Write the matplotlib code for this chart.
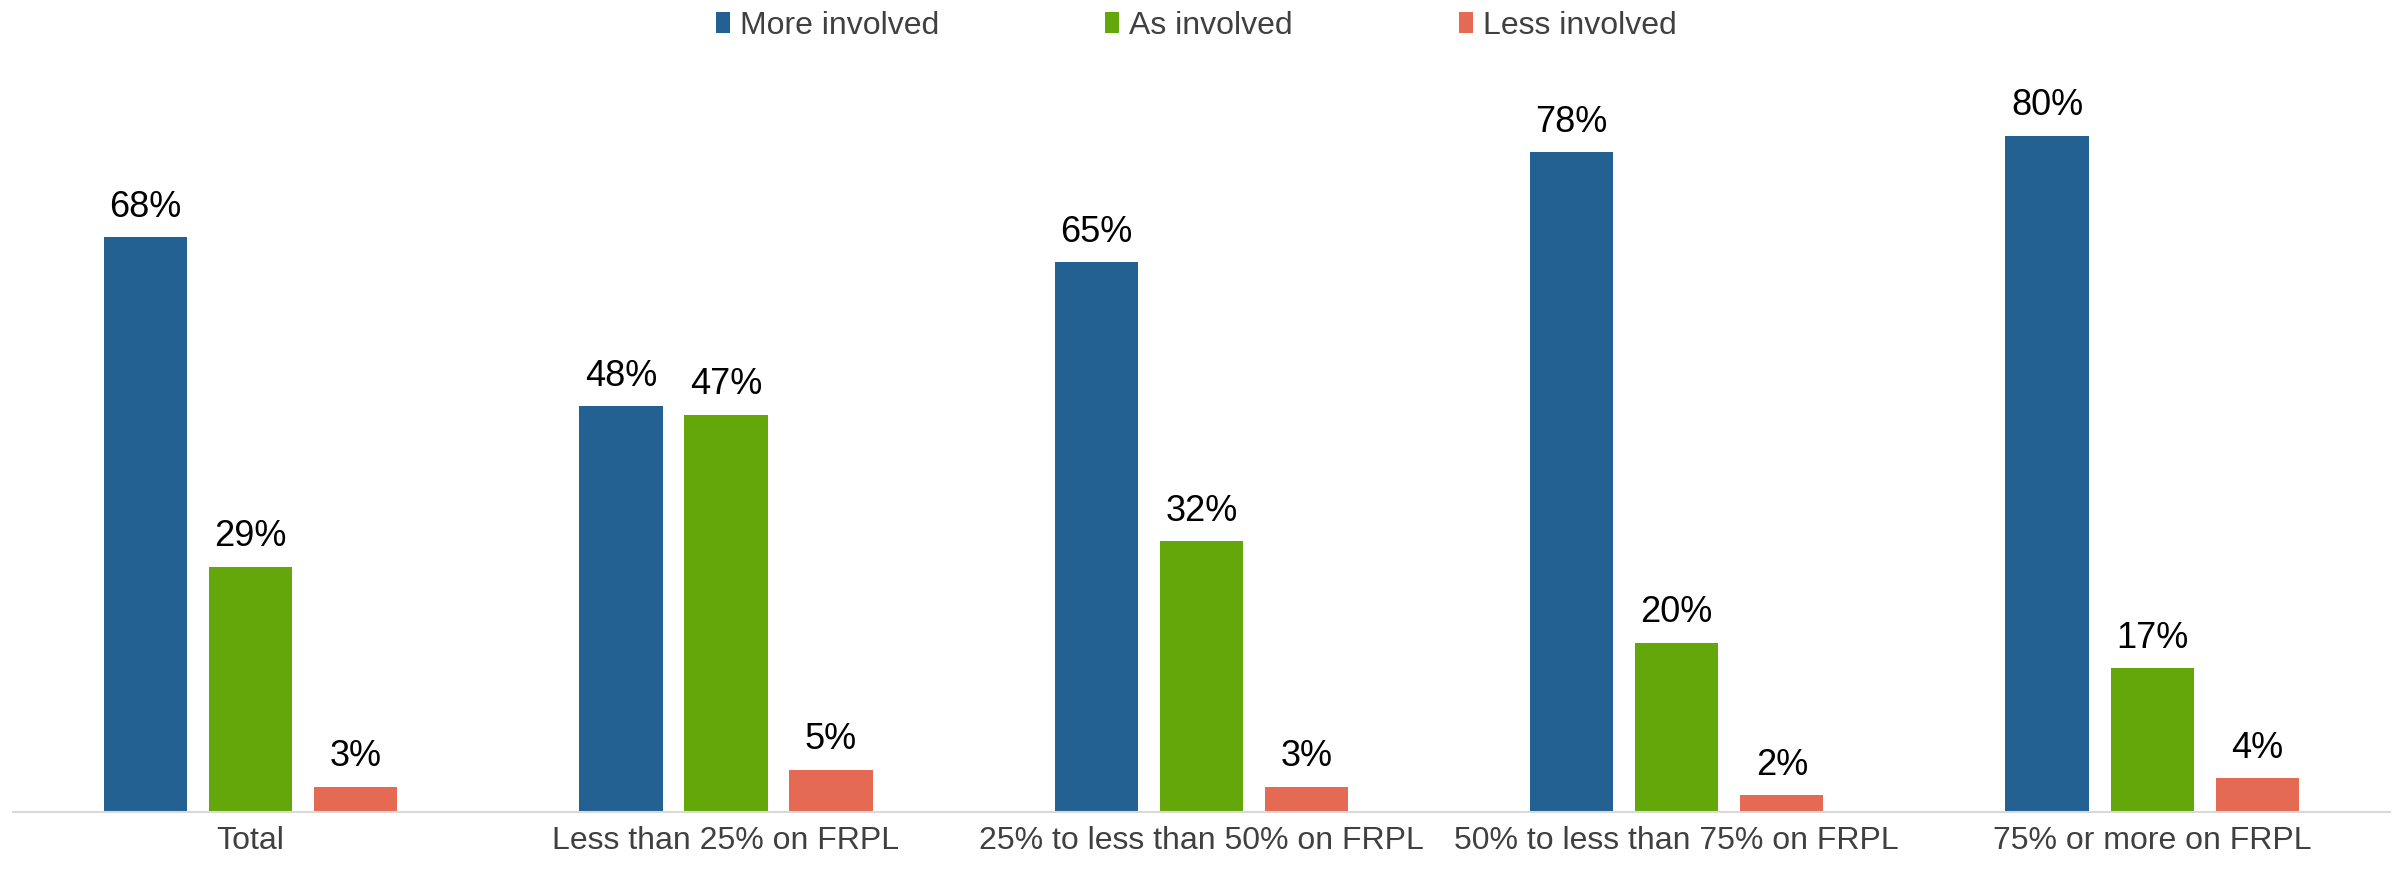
import numpy as np
import matplotlib
matplotlib.use('Agg')
import matplotlib.pyplot as plt

plt.rcParams['font.family'] = ['Liberation Sans', 'DejaVu Sans']

groups = ['Total', 'Less than 25% on FRPL', '25% to less than 50% on FRPL',
          '50% to less than 75% on FRPL', '75% or more on FRPL']
more_involved = [68, 48, 65, 78, 80]
as_involved = [29, 47, 32, 20, 17]
less_involved = [3, 5, 3, 2, 4]

series = [('More involved', more_involved, '#236192'),
          ('As involved', as_involved, '#64A70B'),
          ('Less involved', less_involved, '#E56A54')]

fig = plt.figure(figsize=(23.97, 8.69), dpi=100)
ax = fig.add_axes([0.0054, 0.0656, 0.9916, 0.866])

x = np.arange(len(groups))
pitch = 0.221
width = 0.175
for i, (name, vals, col) in enumerate(series):
    pos = x + (i - 1) * pitch
    bars = ax.bar(pos, vals, width, color=col, label=name)
    for b, v in zip(bars, vals):
        ax.annotate(f'{v}%', (b.get_x() + b.get_width() / 2, v),
                    xytext=(0, 9), textcoords='offset points',
                    ha='center', va='bottom', fontsize=26, color='black')

ax.set_xlim(-0.5, 4.5)
ax.set_ylim(0, 89)
ax.set_xticks(x)
ax.set_xticklabels(groups, fontsize=23, color='#404040')
ax.tick_params(axis='x', length=0, pad=10)
ax.set_yticks([])
for s in ['top', 'right', 'left']:
    ax.spines[s].set_visible(False)
ax.spines['bottom'].set_color('#d9d9d9')
ax.spines['bottom'].set_linewidth(1.5)

fig.legend(loc='upper center', bbox_to_anchor=(0.499, 1.021), ncol=3,
           frameon=False, fontsize=23, labelcolor='#404040',
           handlelength=0.45, handleheight=0.65, handletextpad=0.3,
           columnspacing=5.2)

fig.savefig('out.png', dpi=100)
